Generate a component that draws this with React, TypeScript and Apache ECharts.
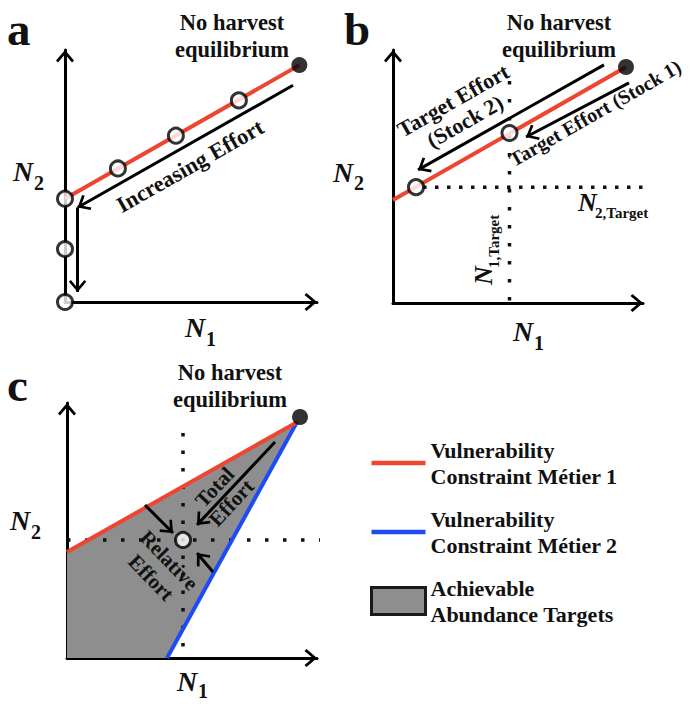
import React, { useEffect, useRef } from 'react';
import * as echarts from 'echarts';

// ---------- Panel a ----------
const A_CONSTRAINT = [[0, 41], [93, 94]];
const A_EQUILIBRIUM = [[93, 94]];
const A_EFFORT_POINTS = [[0, 0], [0, 21], [0, 41], [21, 53], [44, 66], [69, 80]];
const A_ARROWS = [
  [[90.5, 86], [5, 37.5]],
  [[5, 37.5], [5, 4]],
];

// ---------- Panel b ----------
const B_CONSTRAINT = [[0, 40.7], [93.2, 93.3]];
const B_EQUILIBRIUM = [[93.2, 93.3]];
const B_TARGET_POINTS = [[46.6, 67.2], [9.2, 45.8]];
const B_N2_TARGET = [[12, 45.8], [112, 45.8]];
const B_N1_TARGET = [[46.6, 87.7], [46.6, 0]];
const B_ARROWS = [
  [[84.4, 94.1], [10, 52.6]],
  [[94.4, 87], [53.2, 65.6]],
];

// ---------- Panel c ----------
const C_EQUILIBRIUM = [[93.2, 94.5]];
const C_METIER1 = [[0, 41.6], [92, 92.5]];
const C_METIER2 = [[40, 0], [92, 92.5]];
const C_REGION = [[0, 0], [0, 41.6], [92, 92.5], [40, 0]];
const C_TARGET = [[46.4, 46.3]];
const C_N2_TARGET = [[0, 46.3], [112, 46.3]];
const C_N1_TARGET = [[46.4, 88.2], [46.4, 0]];
const C_ARROWS = [
  [[83.2, 84.7], [52, 52.2]],
  [[31.2, 60], [42.4, 49]],
  [[58.4, 33.7], [52, 41.2]],
];

const LEGEND_NAMES = [
  'Vulnerability\nConstraint Métier 1',
  'Vulnerability\nConstraint Métier 2',
  'Achievable\nAbundance Targets',
];

const RED = '#ee4530';
const BLUE = '#1f4cf2';
const GRAY = '#8e8e8e';
const INK = '#111111';
const SERIF = "'Liberation Serif', 'DejaVu Serif', serif";
const CHEVRON = 'path://M13,13L22,23.5L20,25.5L13,17.2L6,25.5L4,23.5Z M0,0 M26,26';

function axis(gridIndex: number) {
  return {
    type: 'value',
    gridIndex,
    min: 0,
    max: 100,
    axisLine: {
      show: true,
      onZero: false,
      symbol: ['none', CHEVRON],
      symbolSize: [26, 26],
      lineStyle: { color: '#000', width: 3 },
    },
    axisTick: { show: false },
    axisLabel: { show: false },
    splitLine: { show: false },
  };
}

function arrowMarks(arrows: number[][][]) {
  return {
    silent: true,
    symbol: ['none', CHEVRON],
    symbolSize: 25,
    label: { show: false },
    emphasis: { disabled: true },
    lineStyle: { color: '#000', width: 3, type: 'solid' },
    data: arrows.map(([p, q]) => [{ coord: p }, { coord: q }]),
  };
}

function solidLine(idx: number, data: number[][], color: string, name?: string, arrows?: number[][][]) {
  return {
    type: 'line',
    name,
    xAxisIndex: idx,
    yAxisIndex: idx,
    data,
    symbol: 'none',
    silent: true,
    clip: false,
    z: 3,
    lineStyle: { color, width: 4 },
    itemStyle: { color },
    markLine: arrows ? arrowMarks(arrows) : undefined,
  };
}

function dotted(idx: number, data: number[][], gap: number) {
  return {
    type: 'line',
    xAxisIndex: idx,
    yAxisIndex: idx,
    data,
    symbol: 'none',
    silent: true,
    clip: false,
    z: 2,
    lineStyle: { color: INK, width: 3.5, type: [3.5, gap] },
  };
}

function points(idx: number, data: number[][], filled: boolean) {
  return {
    type: 'scatter',
    xAxisIndex: idx,
    yAxisIndex: idx,
    data,
    silent: true,
    clip: false,
    z: 6,
    symbol: 'circle',
    symbolSize: filled ? 16 : 15,
    itemStyle: filled
      ? { color: '#000' }
      : { color: '#fff', borderColor: '#000', borderWidth: 3 },
  };
}

function txt(text: string, x: number, y: number, o: any = {}) {
  return {
    type: 'text',
    x,
    y,
    rotation: ((o.rot || 0) * Math.PI) / 180,
    z: 100,
    silent: true,
    style: {
      text,
      fill: INK,
      fontFamily: SERIF,
      fontWeight: 'bold',
      fontStyle: o.italic ? 'italic' : 'normal',
      fontSize: o.size || 22,
      lineHeight: o.lh,
      align: o.align || 'center',
      verticalAlign: o.va || 'middle',
      textAlign: o.align || 'center',
      textVerticalAlign: o.va || 'middle',
    },
  };
}

// Italic "N" with a lowered subscript, as two real texts
function symbolLabel(sub: string, x: number, y: number, o: any = {}) {
  const nSize = o.nSize || 28;
  const sSize = o.sSize || 20;
  const dx = o.dx || 21;
  const dy = o.dy || 11;
  const rot = o.rot || 0;
  const r = (rot * Math.PI) / 180;
  const sx = x + dx * Math.cos(r) + dy * Math.sin(r);
  const sy = y - dx * Math.sin(r) + dy * Math.cos(r);
  return [
    txt('N', x, y, { size: nSize, italic: true, align: 'left', rot }),
    txt(sub, sx, sy, { size: sSize, align: 'left', rot }),
  ];
}

const option: any = {
  animation: false,
  backgroundColor: '#ffffff',
  grid: [
    { left: 65, top: 50, width: 252, height: 252 },
    { left: 393, top: 50, width: 250, height: 253 },
    { left: 67, top: 403, width: 250, height: 255 },
  ],
  xAxis: [axis(0), axis(1), axis(2)],
  yAxis: [axis(0), axis(1), axis(2)],
  legend: {
    orient: 'vertical',
    left: 370,
    top: 437,
    padding: 0,
    itemWidth: 54,
    itemHeight: 27,
    itemGap: 17,
    selectedMode: false,
    textStyle: { fontFamily: SERIF, fontWeight: 'bold', fontSize: 22, lineHeight: 26, color: INK },
    data: [
      { name: LEGEND_NAMES[0], icon: 'path://M0,0H54V4.5H0Z', itemStyle: { color: RED, borderWidth: 0 } },
      { name: LEGEND_NAMES[1], icon: 'path://M0,0H54V4.5H0Z', itemStyle: { color: BLUE, borderWidth: 0 } },
      { name: LEGEND_NAMES[2], icon: 'rect', itemStyle: { color: GRAY, borderColor: '#1a1a1a', borderWidth: 3 } },
    ],
  },
  series: [
    // panel a
    solidLine(0, A_CONSTRAINT, RED, undefined, A_ARROWS),
    points(0, A_EFFORT_POINTS, false),
    points(0, A_EQUILIBRIUM, true),
    // panel b
    dotted(1, B_N2_TARGET, 8.5),
    dotted(1, B_N1_TARGET, 14.5),
    solidLine(1, B_CONSTRAINT, RED, undefined, B_ARROWS),
    points(1, B_TARGET_POINTS, false),
    points(1, B_EQUILIBRIUM, true),
    // panel c
    {
      type: 'custom',
      name: LEGEND_NAMES[2],
      xAxisIndex: 2,
      yAxisIndex: 2,
      data: C_REGION,
      silent: true,
      clip: false,
      z: 1,
      itemStyle: { color: GRAY },
      renderItem: (params: any, api: any) => {
        if (params.dataIndex !== 0) return null;
        return {
          type: 'polygon',
          shape: { points: C_REGION.map((p) => api.coord(p)) },
          style: { fill: GRAY, stroke: 'none' },
        };
      },
    },
    dotted(2, C_N2_TARGET, 14.5),
    dotted(2, C_N1_TARGET, 14),
    solidLine(2, C_METIER2, BLUE, LEGEND_NAMES[1]),
    solidLine(2, C_METIER1, RED, LEGEND_NAMES[0], C_ARROWS),
    points(2, C_TARGET, false),
    points(2, C_EQUILIBRIUM, true),
  ],
  graphic: [
    txt('a', 7, 29, { size: 47, align: 'left' }),
    txt('b', 344, 29, { size: 47, align: 'left' }),
    txt('c', 7, 385, { size: 47, align: 'left' }),
    txt('No harvest\nequilibrium', 232, 36, { lh: 27, size: 22.5 }),
    txt('No harvest\nequilibrium', 559, 36, { lh: 27, size: 22.5 }),
    txt('No harvest\nequilibrium', 230, 386, { lh: 27, size: 22.5 }),
    txt('Increasing Effort', 190, 166, { rot: 29.6, size: 22.5 }),
    txt('Target Effort\n(Stock 2)', 459, 111, { rot: 29.7, lh: 24, size: 22 }),
    txt('Target Effort (Stock 1)', 595, 113, { rot: 29.7, size: 20 }),
    txt('Total\nEffort', 223, 495, { rot: 47, size: 21, lh: 23 }),
    txt('Relative\nEffort', 160, 569, { rot: -46, size: 21, lh: 25 }),
    ...symbolLabel('2', 13, 171.5),
    ...symbolLabel('1', 185, 327, { dy: 12 }),
    ...symbolLabel('2', 333, 172),
    ...symbolLabel('1', 513, 331, { dy: 12 }),
    ...symbolLabel('2', 10, 520.5),
    ...symbolLabel('1', 177, 681, { dy: 10 }),
    ...symbolLabel('2,Target', 578, 202.5, { nSize: 26, sSize: 15, dx: 17, dy: 10 }),
    ...symbolLabel('1,Target', 483.5, 285, { nSize: 26, sSize: 15, dx: 17, dy: 10, rot: 90 }),
  ],
};

export default function App() {
  const ref = useRef<HTMLDivElement>(null);
  useEffect(() => {
    document.body.style.margin = '0';
    const chart = echarts.init(ref.current as HTMLDivElement, null, { renderer: 'svg' });
    chart.setOption(option);
    return () => chart.dispose();
  }, []);
  return (
    <div
      ref={ref}
      style={{ position: 'absolute', left: 0, top: 0, width: 692, height: 704, background: '#fff' }}
    />
  );
}
